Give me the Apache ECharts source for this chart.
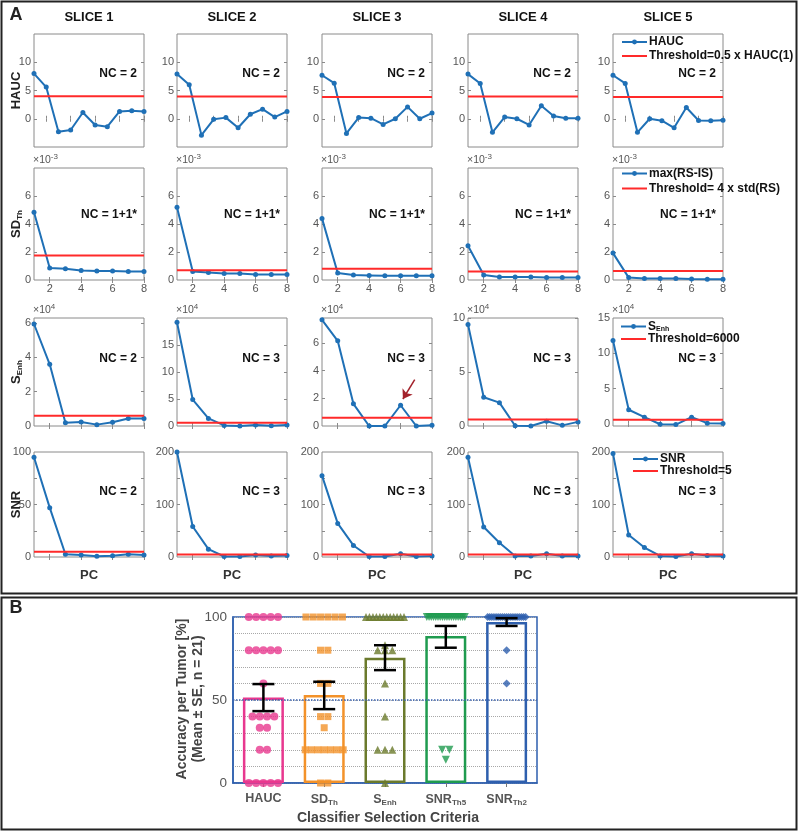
<!DOCTYPE html>
<html><head><meta charset="utf-8">
<script src="https://cdn.jsdelivr.net/npm/echarts@6/dist/echarts.min.js"></script>
<style>html,body{margin:0;padding:0;background:#fff}#c{width:800px;height:833px}</style>
</head><body><div id="c"></div><script>
// ---------------- DATA (panel A) ----------------
const sliceTitles = ['SLICE 1','SLICE 2','SLICE 3','SLICE 4','SLICE 5'];
const haucValues = [
  [8.0,5.6,-2.3,-2.0,1.1,-1.1,-1.4,1.3,1.4,1.3],
  [7.9,6.0,-2.9,-0.1,0.2,-1.6,0.8,1.7,0.3,1.3],
  [7.7,6.3,-2.6,0.2,0.1,-1.0,0.0,2.1,0.0,1.0],
  [7.9,6.25,-2.4,0.3,0.0,-1.1,2.3,0.5,0.1,0.1],
  [7.7,6.25,-2.4,0.0,-0.35,-1.6,2.0,-0.3,-0.35,-0.25]
];
const haucThreshold = [4.0,3.95,3.85,3.95,3.85];
const sdThValues = [ // x 10^-3
  [4.84,0.85,0.8,0.68,0.65,0.65,0.6,0.6],
  [5.2,0.6,0.53,0.46,0.46,0.4,0.4,0.4],
  [4.4,0.5,0.35,0.33,0.3,0.3,0.3,0.3],
  [2.45,0.36,0.22,0.22,0.22,0.17,0.17,0.17],
  [1.92,0.17,0.1,0.1,0.1,0.07,0.05,0.05]
];
const sdThThreshold = [1.75,0.7,0.8,0.6,0.65];
const sEnhValues = [ // x 10^4
  [5.95,3.6,0.19,0.23,0.08,0.22,0.44,0.44],
  [19.2,4.9,1.4,0.1,0.0,0.2,0.05,0.2],
  [7.67,6.15,1.6,0.0,0.0,1.5,0.0,0.05],
  [9.4,2.66,2.16,0.02,0.0,0.44,0.06,0.38],
  [11.8,2.0,0.95,-0.05,-0.1,0.95,0.1,0.05]
];
const sEnhThreshold = [0.6,0.6,0.6,0.6,0.6];
const snrValues = [
  [95,47,2.6,1.9,0.6,1.3,2.6,1.9],
  [200,58,15,1,1,4,2,3],
  [155,64,22,1,1,6,1,2],
  [190,57,27,2,2,6,2,2],
  [197,42,18,2,1,6,3,2]
];
const snrThreshold = [5,5,5,5,5];
const ncLabels = [
  ['NC = 2','NC = 2','NC = 2','NC = 2','NC = 2'],
  ['NC = 1+1*','NC = 1+1*','NC = 1+1*','NC = 1+1*','NC = 1+1*'],
  ['NC = 2','NC = 3','NC = 3','NC = 3','NC = 3'],
  ['NC = 2','NC = 3','NC = 3','NC = 3','NC = 3']
];
const seriesNames = ['HAUC','max(RS-IS)','SEnh','SNR'];
const thresholdNames = ['Threshold=0.5 x HAUC(1)','Threshold= 4 x std(RS)','Threshold=6000','Threshold=5'];
const rowLabels = ['{n|HAUC}','{n|SD}{s|Th}','{n|S}{s|Enh}','{n|SNR}'];
const xMaxRow = [10,8,8,8];
const xTickValues = [[2,4,6,8,10],[2,4,6,8],[2,4,6,8],[2,4,6,8]];
const xTickLabelValues = [[],[2,4,6,8],[],[]];
const yMinA = [[-5,-5,-5,-5,-5],[0,0,0,0,0],[0,0,0,0,-0.3],[0,0,0,0,0]];
const yMaxA = [[15,15,15,15,15],[8,8,8,8,8],[6.3,20,7.8,10,15],[100,200,200,200,200]];
const yTickLabelValues = [
  [[0,5,10],[0,5,10],[0,5,10],[0,5,10],[0,5,10]],
  [[0,2,4,6],[0,2,4,6],[0,2,4,6],[0,2,4,6],[0,2,4,6]],
  [[0,2,4,6],[0,5,10,15],[0,2,4,6],[0,5,10],[0,5,10,15]],
  [[0,50,100],[0,100,200],[0,100,200],[0,100,200],[0,100,200]]
];
const yTickMarkValues = [
  [[0,5,10],[0,5,10],[0,5,10],[0,5,10],[0,5,10]],
  [[2,4,6],[2,4,6],[2,4,6],[2,4,6],[2,4,6]],
  [[2,4,6],[5,10,15],[2,4,6],[5,10],[5,10]],
  [[25,50,75],[50,100,150],[50,100,150],[50,100,150],[50,100,150]]
];
const exponentLabels = [null,'-3','4',null];
// arrow annotation (slice 3, S_Enh), data coordinates
const arrowFrom = [6.9,3.35], arrowTo = [6.15,1.95];

// ---------------- DATA (panel B) ----------------
const criteria = ['HAUC','SDTh','SEnh','SNRTh5','SNRTh2'];
const criteriaLabels = ['{n|HAUC}','{n|SD}{s|Th}','{n|S}{s|Enh}','{n|SNR}{s|Th5}','{n|SNR}{s|Th2}'];
const meanAccuracy = [51.5,53,75.5,88.5,97];
const seLow = [43.3,44.5,68,81.5,94.6];
const seHigh = [59.6,61,83,94.6,99.3];
const accHAUC = [100,100,100,100,100,80,80,80,80,80,60,40,40,40,40,33.3,33.3,20,20,0,0,0,0,0];
const accSDTh = [100,100,100,100,100,100,80,80,60,60,40,40,33.3,20,20,20,20,20,20,20,0,0];
const accSEnh = [100,100,100,100,100,100,100,100,100,100,100,100,83,80,80,80,60,40,20,20,20,0];
const accSNRTh5 = [100,100,100,100,100,100,100,100,100,100,100,100,100,100,100,100,100,100,20,20,14];
const accSNRTh2 = [100,100,100,100,100,100,100,100,100,100,100,100,100,100,100,100,100,100,100,80,60];

// ---------------- STYLE ----------------
const FONT = '"Liberation Sans", Arial, Helvetica, sans-serif';
const BLUE = '#1f70b6', RED = '#ff2a2a', AX = '#8a8a8a', TXT = '#555';
const colLeft = [34,177,322,468,613], colW = 110;
const rowTop = [34,168,318,452], rowBot = [147,280,426,557];
const catColors = ['#e8388f','#f3922a','#6b7a2c','#1f9b4f','#2e5fae'];
const catSymbols = ['circle','rect','triangle','path://M0,0 L10,0 L5,9 Z','diamond'];
const catSizes = [8,7,8,8,8];
const B = {left:233, top:617, width:304, height:166};

const grids = [], xAxes = [], yAxes = [], series = [], graphics = [], legends = [];
const rowData = [
  [haucValues, haucThreshold],
  [sdThValues, sdThThreshold],
  [sEnhValues, sEnhThreshold],
  [snrValues, snrThreshold]
];
const subRich = {
  n:{fontFamily:FONT,fontSize:13,fontWeight:'bold',color:'#222'},
  s:{fontFamily:FONT,fontSize:8,fontWeight:'bold',color:'#222',padding:[7,0,0,0]}
};

for (let r = 0; r < 4; r++) {
  for (let c = 0; c < 5; c++) {
    const g = grids.length;
    grids.push({left:colLeft[c], top:rowTop[r], width:colW, height:rowBot[r]-rowTop[r],
      show:true, borderColor:AX, borderWidth:1, backgroundColor:'#fff'});
    const xBase = {type:'value', gridIndex:g, min:1, max:xMaxRow[r], splitLine:{show:false},
      axisLine:{show:false}};
    xAxes.push(Object.assign({}, xBase, {position:'bottom',
      axisTick:{show:true, inside:true, length:3, lineStyle:{color:AX}, customValues:xTickValues[r]},
      axisLabel:{show:xTickLabelValues[r].length>0, customValues:xTickLabelValues[r], margin:3,
        fontFamily:FONT, fontSize:11, color:TXT}}));
    xAxes.push(Object.assign({}, xBase, {position:'top',
      axisTick:{show:true, inside:true, length:3, lineStyle:{color:AX}, customValues:xTickValues[r]},
      axisLabel:{show:false}}));
    const yBase = {type:'value', gridIndex:g, min:yMinA[r][c], max:yMaxA[r][c], splitLine:{show:false},
      axisLine:{show:false}};
    yAxes.push(Object.assign({}, yBase, {position:'left',
      axisTick:{show:true, inside:true, length:3, lineStyle:{color:AX}, customValues:yTickMarkValues[r][c]},
      axisLabel:{show:true, customValues:yTickLabelValues[r][c], margin:3,
        fontFamily:FONT, fontSize:11, color:TXT}}));
    yAxes.push(Object.assign({}, yBase, {position:'right',
      axisTick:{show:true, inside:true, length:3, lineStyle:{color:AX}, customValues:yTickMarkValues[r][c]},
      axisLabel:{show:false}}));
    const vals = rowData[r][0][c], thr = rowData[r][1][c];
    const s = {type:'line', name:seriesNames[r], xAxisIndex:2*g, yAxisIndex:2*g,
      data: vals.map((v,i)=>[i+1, v]), symbol:'circle', symbolSize:5, showSymbol:true,
      clip:false, animation:false, color:BLUE, lineStyle:{width:2, color:BLUE},
      itemStyle:{color:BLUE}, z:3};
    if (r === 2 && c === 2) {
      s.markLine = {silent:true, symbol:['none','arrow'], symbolSize:9, label:{show:false},
        lineStyle:{color:'#a3222b', width:1.5, type:'solid'}, itemStyle:{color:'#a3222b'}, animation:false,
        data:[[{coord:arrowFrom},{coord:arrowTo}]]};
    }
    series.push(s);
    series.push({type:'line', name:thresholdNames[r], xAxisIndex:2*g, yAxisIndex:2*g,
      data:[[1,thr],[xMaxRow[r],thr]], symbol:'none', showSymbol:false, clip:false, animation:false,
      color:RED, lineStyle:{width:2, color:RED}, z:4});
    // NC annotation
    graphics.push({type:'text', x:colLeft[c]+colW-7, y:[74,215,359,492][r], z:20,
      style:{text:ncLabels[r][c], fontFamily:FONT, fontSize:12, fontWeight:'bold', fill:'#111',
        align:'right', verticalAlign:'middle'}});
    if (exponentLabels[r]) {
      graphics.push({type:'text', x:colLeft[c]-1, y:rowTop[r]-8, z:20,
        style:{text:'×10{sup|'+exponentLabels[r]+'}', fontFamily:FONT, fontSize:10.5, fill:TXT,
          align:'left', verticalAlign:'middle',
          rich:{sup:{fontFamily:FONT, fontSize:8, fill:TXT, padding:[0,0,7,0]}}}});
    }
  }
  // row label
  graphics.push({type:'text', x:16, y:(rowTop[r]+rowBot[r])/2, rotation:Math.PI/2, z:20,
    style:{text:rowLabels[r], rich:subRich, align:'center', verticalAlign:'middle',
      fontFamily:FONT, fontSize:13, fontWeight:'bold', fill:'#222'}});
}
// column titles
sliceTitles.forEach((t,c)=>graphics.push({type:'text', x:colLeft[c]+colW/2, y:17, z:20,
  style:{text:t, fontFamily:FONT, fontSize:13, fontWeight:'bold', fill:'#111', align:'center', verticalAlign:'middle'}}));
// PC labels
for (let c = 0; c < 5; c++) graphics.push({type:'text', x:colLeft[c]+colW/2, y:575, z:20,
  style:{text:'PC', fontFamily:FONT, fontSize:13, fontWeight:'bold', fill:'#333', align:'center', verticalAlign:'middle'}});

// legends
const legendPos = [
  {left:621, top:35, lh:14},
  {left:621, top:166, lh:15},
  {left:620, top:320.5, lh:11},
  {left:632, top:453, lh:12}
];
for (let r = 0; r < 4; r++) {
  const p = legendPos[r];
  legends.push({left:p.left, top:p.top, orient:'vertical', padding:0, itemWidth:25, itemHeight:6, itemGap:0,
    selectedMode:false,
    data:[{name:seriesNames[r]}, {name:thresholdNames[r], icon:'path://M0,0H25V2H0Z'}],
    formatter: n => n === 'SEnh' ? '{n|S}{s|Enh}' : n,
    textStyle:{fontFamily:FONT, fontSize:12, fontWeight:'bold', color:'#111', padding:[0,0,0,-3],
      lineHeight:p.lh, height:p.lh,
      rich:{n:{fontFamily:FONT,fontSize:12,fontWeight:'bold',color:'#111'},
            s:{fontFamily:FONT,fontSize:7,fontWeight:'bold',color:'#111',padding:[6,0,0,0]}}}});
}

// ---------------- panel B ----------------
const gB = grids.length;
grids.push({left:B.left, top:B.top, width:B.width, height:B.height, show:true,
  borderColor:'#2e5fae', borderWidth:1.5, backgroundColor:'transparent'});
const xCat = xAxes.length;
xAxes.push({type:'category', gridIndex:gB, data:criteria, position:'bottom',
  axisLine:{show:true, lineStyle:{color:'#2e5fae', width:1.5}},
  axisTick:{show:true, alignWithLabel:true, length:4, lineStyle:{color:'#777'}},
  axisLabel:{margin:9, interval:0, formatter:(v,i)=>criteriaLabels[i],
    rich:{n:{fontFamily:FONT,fontSize:12.5,fontWeight:'bold',color:'#555'},
          s:{fontFamily:FONT,fontSize:8,fontWeight:'bold',color:'#555',padding:[7,0,0,0]}}},
  splitLine:{show:false}});
const xVal = xAxes.length;
xAxes.push({type:'value', gridIndex:gB, min:0.5, max:5.5, show:false});
const yB = yAxes.length;
yAxes.push({type:'value', gridIndex:gB, min:0, max:100, interval:10,
  axisLine:{show:true, lineStyle:{color:'#2e5fae', width:1.5}},
  axisTick:{show:false},
  axisLabel:{customValues:[0,50,100], margin:6, fontFamily:FONT, fontSize:13.5, color:'#555'},
  splitLine:{show:true, lineStyle:{type:'dotted', color:'#a8a8a8', width:1}}});

series.push({type:'bar', xAxisIndex:xCat, yAxisIndex:yB, barWidth:41, animation:false, z:2,
  data: meanAccuracy.map((v,i)=>({value:v, itemStyle:{color:'rgba(255,255,255,0)', borderColor:catColors[i], borderWidth:2.5}})),
  markLine:{silent:true, symbol:'none', label:{show:false}, animation:false,
    lineStyle:{type:'dotted', color:'#3a63b3', width:1.5}, data:[{yAxis:50}]}});

const catPx = B.width / criteria.length;
function swarm(vals, idx) {
  const groups = new Map();
  vals.forEach(v => { if (!groups.has(v)) groups.set(v, []); groups.get(v).push(v); });
  const out = [];
  groups.forEach(g => {
    const n = g.length, sp = n > 1 ? Math.min(7.3, 38/(n-1)) : 0;
    g.forEach((v,j) => out.push([idx+1 + (j-(n-1)/2)*sp/catPx, v]));
  });
  return out;
}
[accHAUC, accSDTh, accSEnh, accSNRTh5, accSNRTh2].forEach((vals,i)=>{
  series.push({type:'scatter', xAxisIndex:xVal, yAxisIndex:yB, animation:false, z:4, clip:false,
    symbol:catSymbols[i], symbolSize:catSizes[i], itemStyle:{color:catColors[i]},
    data: swarm(vals, i)});
});
series.push({type:'custom', xAxisIndex:xCat, yAxisIndex:yB, animation:false, z:6,
  encode:{x:0, y:[1,2]},
  data: seLow.map((lo,i)=>[i, lo, seHigh[i]]),
  renderItem:(params, api)=>{
    const x = api.value(0), pLo = api.coord([x, api.value(1)]), pHi = api.coord([x, api.value(2)]);
    const hw = 11, st = {stroke:'#000', lineWidth:2.5};
    return {type:'group', children:[
      {type:'line', shape:{x1:pLo[0], y1:pLo[1], x2:pHi[0], y2:pHi[1]}, style:st},
      {type:'line', shape:{x1:pLo[0]-hw, y1:pLo[1], x2:pLo[0]+hw, y2:pLo[1]}, style:st},
      {type:'line', shape:{x1:pHi[0]-hw, y1:pHi[1], x2:pHi[0]+hw, y2:pHi[1]}, style:st}
    ]};
  }});

graphics.push({type:'text', x:182, y:699, rotation:Math.PI/2, z:20,
  style:{text:'Accuracy per Tumor [%]', fontFamily:FONT, fontSize:14, fontWeight:'bold', fill:'#444', align:'center', verticalAlign:'middle'}});
graphics.push({type:'text', x:198, y:699, rotation:Math.PI/2, z:20,
  style:{text:'(Mean ± SE, n = 21)', fontFamily:FONT, fontSize:14, fontWeight:'bold', fill:'#444', align:'center', verticalAlign:'middle'}});
graphics.push({type:'text', x:388, y:818, z:20,
  style:{text:'Classifier Selection Criteria', fontFamily:FONT, fontSize:14, fontWeight:'bold', fill:'#444', align:'center', verticalAlign:'middle'}});
// panel frames and letters
graphics.push({type:'rect', shape:{x:1.5, y:1.5, width:795, height:592}, z:1,
  style:{fill:'none', stroke:'#222', lineWidth:2}});
graphics.push({type:'rect', shape:{x:1.5, y:597.5, width:795, height:232}, z:1,
  style:{fill:'none', stroke:'#222', lineWidth:2}});
graphics.push({type:'text', x:16, y:15, z:20, style:{text:'A', fontFamily:FONT, fontSize:18, fontWeight:'bold', fill:'#222', align:'center', verticalAlign:'middle'}});
graphics.push({type:'text', x:16, y:608, z:20, style:{text:'B', fontFamily:FONT, fontSize:18, fontWeight:'bold', fill:'#222', align:'center', verticalAlign:'middle'}});

const chart = echarts.init(document.getElementById('c'), null, {renderer:'canvas', width:800, height:833});
chart.setOption({
  animation:false, backgroundColor:'#fff',
  grid:grids, xAxis:xAxes, yAxis:yAxes, series:series, legend:legends,
  graphic:{elements:graphics}
});
</script></body></html>
